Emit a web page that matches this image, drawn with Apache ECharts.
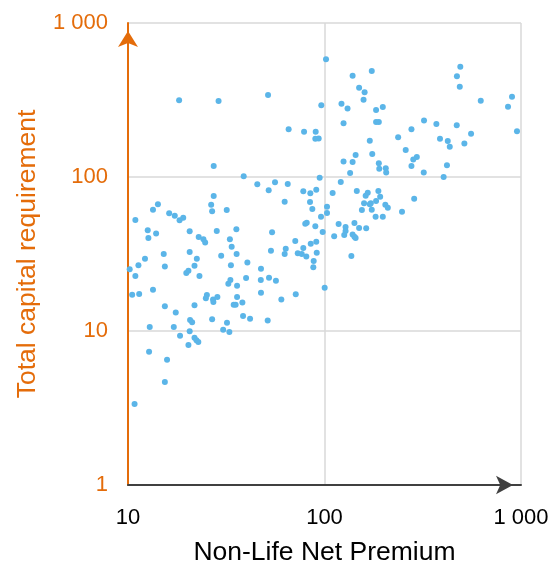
<!DOCTYPE html>
<html>
<head>
<meta charset="utf-8">
<script src="https://cdn.jsdelivr.net/npm/echarts@6/dist/echarts.min.js"></script>
<style>
  html, body { margin: 0; padding: 0; background: #fff; }
  #chart { width: 554px; height: 563px; }
</style>
</head>
<body>
<div id="chart"></div>
<script>
// Non-life net premium (x) against total capital requirement (y), one point per undertaking
const netPremium = [
  18.2, 28.9, 27.3, 38.8, 101.8, 139, 174, 51.6, 150, 160,
  158, 96.3, 122, 131, 183, 198, 125, 183, 189, 65.7,
  78.7, 90.2, 89.8, 93.4, 170, 144, 175, 125, 139, 189,
  190, 205, 206, 135, 94.5, 491, 472, 488, 624, 900,
  859, 954, 321, 371, 471, 277, 557, 237, 387, 424,
  434, 515, 259, 295, 283, 277, 420, 320, 404, 286,
  248, 45.5, 56.0, 65.0, 52.0, 78.0, 84.7, 90.8, 121, 110,
  146, 166, 162, 188, 192, 62.7, 84.4, 86.7, 103, 103,
  96.0, 159, 170, 172, 183, 155, 174, 204, 210, 182,
  198, 81.2, 79.8, 89.8, 97.9, 118, 128, 128, 142, 150,
  163, 112, 126, 139, 142, 144, 54.1, 71.0, 85.1, 90.8,
  78.0, 53.4, 63.5, 62.7, 73.1, 76.6, 80.8, 91.3, 137, 88.1,
  87.7, 40.5, 47.5, 47.4, 52.2, 56.6, 47.5, 100.2, 71.4, 60.3,
  41.8, 51.4, 27.3, 26.5, 26.8, 31.8, 14.2, 13.4, 16.2, 17.3,
  19.1, 18.3, 10.9, 12.6, 13.9, 12.7, 20.6, 28.3, 35.6, 22.9,
  24.2, 24.7, 33.0, 33.7, 15.2, 20.6, 22.4, 29.8, 35.7, 12.2,
  10.2, 11.3, 10.9, 15.4, 21.8, 20.3, 19.8, 33.4, 23.1, 33.2,
  32.4, 35.9, 39.9, 13.4, 10.5, 11.4, 25.2, 24.9, 27.1, 27.2,
  28.5, 35.9, 15.4, 21.8, 34.5, 35.3, 38.2, 17.5, 20.7, 21.2,
  26.8, 31.9, 38.5, 12.9, 17.1, 18.4, 20.6, 30.5, 32.8, 21.8,
  22.3, 22.8, 20.3, 12.8, 15.8, 15.4, 10.8
];
const capitalRequirement = [
  315, 312, 118, 101, 581, 455, 488, 341, 380, 355,
  318, 292, 299, 279, 272, 285, 223, 228, 228, 204,
  197, 197, 177, 178, 172, 139, 141, 126, 125, 123,
  113, 114, 107, 106, 99, 520, 451, 386, 313, 332,
  286, 198, 233, 221, 217, 204, 191, 181, 177, 171,
  157, 165, 150, 135, 130, 118, 119, 107, 100, 72.3,
  59.5, 89.7, 92.4, 90.1, 82.0, 80.7, 78.4, 82.7, 92.8, 78.7,
  81.1, 79.1, 75.6, 81.1, 74.5, 69.1, 68.8, 62.0, 64.1, 58.4,
  55.2, 67.5, 66.5, 67.5, 69.8, 61.1, 61.3, 66.1, 63.2, 55.2,
  55.2, 50.5, 49.8, 47.9, 43.9, 49.5, 47.3, 44.6, 50.3, 46.6,
  46.4, 41.2, 42.0, 42.4, 41.0, 40.2, 43.7, 38.4, 36.9, 38.0,
  34.6, 33.2, 34.2, 31.6, 32.0, 31.6, 30.5, 32.2, 30.7, 28.5,
  25.9, 27.8, 25.4, 21.4, 22.2, 21.2, 17.7, 19.1, 17.3, 16.0,
  12.0, 11.7, 75.3, 66.1, 59.9, 61.1, 66.5, 61.3, 58.1, 56.1,
  54.4, 52.3, 52.6, 45.1, 42.9, 40.2, 44.4, 44.6, 45.8, 40.8,
  39.4, 37.5, 39.4, 35.3, 31.6, 32.6, 29.5, 30.8, 31.6, 29.4,
  25.2, 26.7, 22.8, 26.2, 26.5, 24.6, 23.8, 26.7, 22.8, 21.4,
  20.3, 19.7, 22.1, 18.5, 17.2, 17.4, 17.1, 16.3, 16.0, 15.4,
  16.6, 16.6, 14.5, 14.7, 14.8, 14.8, 15.3, 13.2, 11.8, 11.4,
  11.9, 11.3, 12.5, 10.6, 10.6, 9.32, 9.95, 10.2, 9.85, 9.05,
  8.70, 8.48, 8.11, 7.34, 6.51, 4.67, 3.36
];

// Tick labels on the two logarithmic axes
const xTickValues = [10, 100, 1000];
const xTickLabels = ['10', '100', '1 000'];
const yTickValues = [1, 10, 100, 1000];
const yTickLabels = ['1', '10', '100', '1 000'];

const xAxisTitle = 'Non-Life Net Premium';
const yAxisTitle = 'Total capital requirement';

const points = netPremium.map((x, i) => [x, capitalRequirement[i]]);

const ORANGE = '#E46C0A';
const FONT = '"Liberation Sans", Arial, sans-serif';

function labelFor(values, labels) {
  return function (v) {
    for (let i = 0; i < values.length; i++) {
      if (Math.abs(v - values[i]) < 1e-6 * values[i]) return labels[i];
    }
    return '';
  };
}

const chart = echarts.init(document.getElementById('chart'), null, { renderer: 'canvas' });
chart.setOption({
  animation: false,
  backgroundColor: '#ffffff',
  grid: {
    left: 128, right: 33, top: 23, bottom: 78,
    containLabel: false,
    outerBoundsMode: 'none'
  },
  xAxis: {
    type: 'log',
    logBase: 10,
    min: 10,
    max: 1000,
    name: xAxisTitle,
    nameLocation: 'middle',
    nameGap: 54,
    nameTextStyle: { color: '#000', fontSize: 26.5, fontFamily: FONT },
    axisLine: {
      show: true,
      symbol: ['none', 'arrow'],
      symbolSize: [14, 17],
      symbolOffset: [0, -8],
      lineStyle: { color: '#404040', width: 2 }
    },
    axisTick: { show: false },
    minorTick: { show: false },
    axisLabel: {
      color: '#000',
      fontSize: 22,
      fontFamily: FONT,
      margin: 22,
      formatter: labelFor(xTickValues, xTickLabels)
    },
    splitLine: { show: true, lineStyle: { color: '#d9d9d9', width: 1.5 } }
  },
  yAxis: {
    type: 'log',
    logBase: 10,
    min: 1,
    max: 1000,
    name: yAxisTitle,
    nameLocation: 'middle',
    nameGap: 87,
    nameTextStyle: { color: ORANGE, fontSize: 26.5, fontFamily: FONT },
    axisLine: {
      show: true,
      symbol: ['none', 'arrow'],
      symbolSize: [15, 16],
      symbolOffset: [0, -8],
      lineStyle: { color: ORANGE, width: 2 }
    },
    axisTick: { show: false },
    minorTick: { show: false },
    axisLabel: {
      color: ORANGE,
      fontSize: 22,
      fontFamily: FONT,
      margin: 20,
      formatter: labelFor(yTickValues, yTickLabels)
    },
    splitLine: { show: true, lineStyle: { color: '#d9d9d9', width: 1.5 } }
  },
  series: [{
    type: 'scatter',
    data: points,
    symbol: 'circle',
    symbolSize: 6,
    clip: false,
    itemStyle: { color: '#5BB5E8', opacity: 1 }
  }]
});
</script>
</body>
</html>
